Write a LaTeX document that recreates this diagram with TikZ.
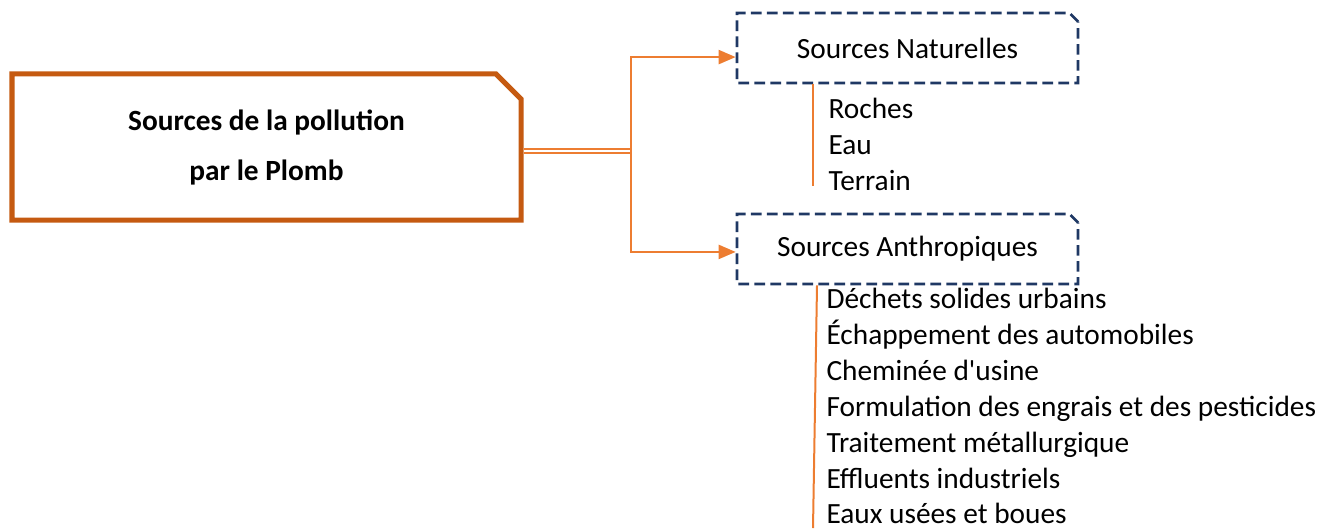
\documentclass[tikz,border=0pt]{standalone}
\usepackage{fontspec}
\setmainfont{Carlito}
\newfontfamily\plainfont{Carlito}
\usetikzlibrary{shapes.misc,arrows.meta}

\definecolor{boxorange}{HTML}{C55A11}
\definecolor{lineorange}{HTML}{ED7D31}
\definecolor{navy}{HTML}{1F3864}

\tikzset{
  mainbox/.style={chamfered rectangle, chamfered rectangle corners=north east,
    chamfered rectangle xsep=4.7pt, chamfered rectangle ysep=4.7pt,
    draw=boxorange, line width=1.9pt, minimum width=190.9pt, minimum height=54.8pt,
    align=center, font={\fontsize{11}{18.75}\selectfont\bfseries}},
  srcbox/.style={chamfered rectangle, chamfered rectangle corners=north east,
    chamfered rectangle xsep=1.6pt, chamfered rectangle ysep=1.6pt,
    draw=navy, line width=1pt, dash pattern=on 4pt off 2pt,
    minimum width=127.9pt, minimum height=26.25pt, font=\fontsize{11}{13.5}\selectfont},
  item/.style={anchor=base west, inner sep=0pt, font=\fontsize{11}{13.5}\selectfont},
  link/.style={draw=lineorange, line width=0.75pt},
  dbl/.style={draw=lineorange, double, line width=0.7pt, double distance=0.8pt},
  arr/.style={link, -{Triangle[length=6.4pt, width=5.3pt]}}
}

\begin{document}
\begin{tikzpicture}[x=0.375pt, y=-0.375pt]
\useasboundingbox (0,0) rectangle (1335,528);

% main box
\node[mainbox] (main) at (266.5,147) {Sources de la pollution\\par le Plomb};

% the two kinds of sources
\node[srcbox] (nat) at (907.5,48) {Sources Naturelles};
\node[srcbox] (anth) at (907.5,249) {Sources Anthropiques};

\coordinate (split) at (631,151);
\path[dbl] (main.east |- split) -- (split);
\path[arr] (split) |- ([yshift=-3.4pt]nat.west);
\path[arr] (split) |- ([yshift=-1.1pt]anth.west);

% natural sources
\coordinate (natend) at (813,186);
\path[link] (nat.south -| natend) -- (natend);
\node[item] (n1) at (828,118) {Roches};
\node[item] (n2) at (828,154) {Eau};
\node[item] (n3) at (828,190) {Terrain};

% anthropic sources
\coordinate (anthtop) at (817,285);
\coordinate (anthend) at (813,528);
\path[link] (anth.south -| anthtop) -- (anthend);
\node[item] (a1) at (826,308) {Déchets solides urbains};
\node[item] (a2) at (826,344) {Échappement des automobiles};
\node[item] (a3) at (826,380) {\plainfont Cheminée d'usine};
\node[item] (a4) at (826,416) {Formulation des engrais et des pesticides};
\node[item] (a5) at (826,452) {Traitement métallurgique};
\node[item] (a6) at (826,488) {Effluents industriels};
\node[item] (a7) at (826,523) {Eaux usées et boues};
\end{tikzpicture}
\end{document}
